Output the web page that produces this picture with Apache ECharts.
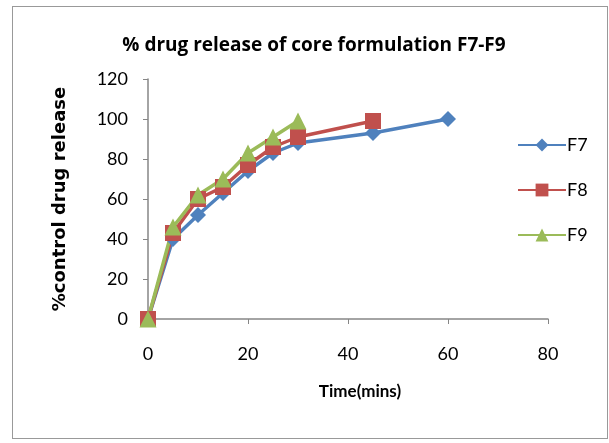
<!DOCTYPE html>
<html><head><meta charset="utf-8">
<script src="https://cdn.jsdelivr.net/npm/echarts@6/dist/echarts.min.js"></script>
<style>html,body{margin:0;padding:0;background:#fff}#c{width:609px;height:443px}
#frame{position:absolute;left:12px;top:6px;width:594px;height:431px;border:1.5px solid #999;pointer-events:none}</style>
</head><body><div id="c"></div><div id="frame"></div>
<script>
const times = [0, 5, 10, 15, 20, 25, 30, 45, 60];
const f7 = [0, 40, 52, 63, 74, 83, 88, 93, 100];
const f8 = [0, 43, 60, 66, 77, 86, 91, 99];
const f9 = [0, 46, 62, 70, 83, 91, 99];
const seriesNames = ['F7', 'F8', 'F9'];
const colors = ['#4F81BD', '#C0504D', '#9BBB59'];
const font = 'Lato, "Open Sans", sans-serif';
function pairs(vals){ return vals.map((v,i)=>[times[i], v]); }
const chart = echarts.init(document.getElementById('c'));
chart.setOption({
  animation:false,
  title:{text:'% drug release of core formulation F7-F9', left:309, textAlign:'center', top:31,
    textStyle:{fontFamily:'"Open Sans", sans-serif', fontSize:19, fontWeight:'bold', color:'#000'}},
  legend:{orient:'vertical', left:512, top:131, itemGap:27, itemWidth:48, itemHeight:16,
    textStyle:{fontFamily:font, fontSize:18, color:'#000', padding:[0,0,0,-4]}, data:seriesNames},
  grid:{left:148, right:61, top:79, bottom:124},
  xAxis:{type:'value', min:0, max:80, interval:20, name:'Time(mins)', nameLocation:'middle', nameGap:64,
    nameTextStyle:{fontFamily:font, fontSize:17, fontWeight:'bold', color:'#000', padding:[0,0,0,24]},
    axisLine:{lineStyle:{color:'#868686', width:1.5}}, axisTick:{show:true, length:5, lineStyle:{color:'#868686'}},
    axisLabel:{margin:26, fontFamily:font, fontSize:18, color:'#000'}, splitLine:{show:false}},
  yAxis:{type:'value', min:0, max:120, interval:20, name:'%control drug release', nameLocation:'middle', nameGap:79,
    nameTextStyle:{fontFamily:'"DejaVu Sans", sans-serif', fontSize:18, fontWeight:'bold', color:'#000'},
    axisLine:{show:true, lineStyle:{color:'#868686', width:1.5}}, axisTick:{show:true, length:5, lineStyle:{color:'#868686'}},
    axisLabel:{margin:20, fontFamily:font, fontSize:18, color:'#000'}, splitLine:{show:false}},
  series:[
    {name:seriesNames[0], type:'line', data:pairs(f7), symbol:'diamond', symbolSize:16, color:colors[0], lineStyle:{width:3.5}},
    {name:seriesNames[1], type:'line', data:pairs(f8), symbol:'rect', symbolSize:16, color:colors[1], lineStyle:{width:3.5}},
    {name:seriesNames[2], type:'line', data:pairs(f9), symbol:'triangle', symbolSize:17, color:colors[2], lineStyle:{width:3.5}}
  ]
});
</script></body></html>
